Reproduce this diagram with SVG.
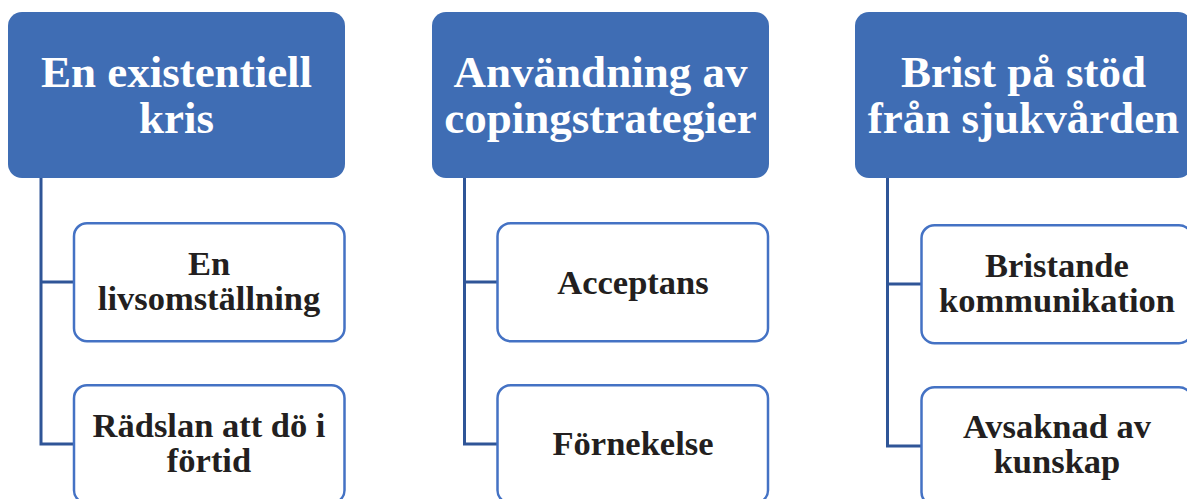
<svg xmlns="http://www.w3.org/2000/svg" width="1187" height="499" viewBox="0 0 1187 499">
<style>
.hdr{fill:#3F6DB4;}
.hdr-t{fill:#FFFFFF;font-family:"Liberation Serif","Times New Roman",serif;font-weight:bold;font-size:45px;text-anchor:middle;}
.ch{fill:#FFFFFF;stroke:#4472C4;stroke-width:2.5;}
.ch-t{fill:#231F20;font-family:"Liberation Serif","Times New Roman",serif;font-weight:bold;font-size:34.5px;text-anchor:middle;}
.con{fill:none;stroke:#2F5597;stroke-width:3;}
</style>
<rect width="1187" height="499" fill="#FFFFFF"/>
<g id="connectors">
<path class="con" d="M41,178 V444 H74 M41,282 H74"/>
<path class="con" d="M464.5,178 V444 H497.5 M464.5,282 H497.5"/>
<path class="con" d="M887.5,178 V446 H921.5 M887.5,284 H921.5"/>
</g>
<g id="n1">
<rect class="hdr" x="8" y="12" width="337" height="166" rx="14"/>
<text class="hdr-t" x="176.5" y="87">En existentiell</text>
<text class="hdr-t" x="176.5" y="133">kris</text>
</g>
<g id="n1a">
<rect class="ch" x="74" y="223.2" width="270.5" height="118" rx="13"/>
<text class="ch-t" x="209" y="275">En</text>
<text class="ch-t" x="209" y="310">livsomställning</text>
</g>
<g id="n1b">
<rect class="ch" x="74" y="385.2" width="270.5" height="118" rx="13"/>
<text class="ch-t" x="209" y="437">Rädslan att dö i</text>
<text class="ch-t" x="209" y="472">förtid</text>
</g>
<g id="n2">
<rect class="hdr" x="432" y="12" width="337" height="166" rx="14"/>
<text class="hdr-t" x="600.5" y="87">Användning av</text>
<text class="hdr-t" x="600.5" y="133">copingstrategier</text>
</g>
<g id="n2a">
<rect class="ch" x="497.5" y="223.2" width="270.5" height="118" rx="13"/>
<text class="ch-t" x="633" y="294">Acceptans</text>
</g>
<g id="n2b">
<rect class="ch" x="497.5" y="385.2" width="270.5" height="118" rx="13"/>
<text class="ch-t" x="633" y="455">Förnekelse</text>
</g>
<g id="n3">
<rect class="hdr" x="855" y="12" width="337" height="166" rx="14"/>
<text class="hdr-t" x="1023.5" y="87">Brist på stöd</text>
<text class="hdr-t" x="1023.5" y="133">från sjukvården</text>
</g>
<g id="n3a">
<rect class="ch" x="921.5" y="225.2" width="270.5" height="118" rx="13"/>
<text class="ch-t" x="1057" y="277">Bristande</text>
<text class="ch-t" x="1057" y="312">kommunikation</text>
</g>
<g id="n3b">
<rect class="ch" x="921.5" y="387.2" width="270.5" height="118" rx="13"/>
<text class="ch-t" x="1057" y="438">Avsaknad av</text>
<text class="ch-t" x="1057" y="473">kunskap</text>
</g>
</svg>
